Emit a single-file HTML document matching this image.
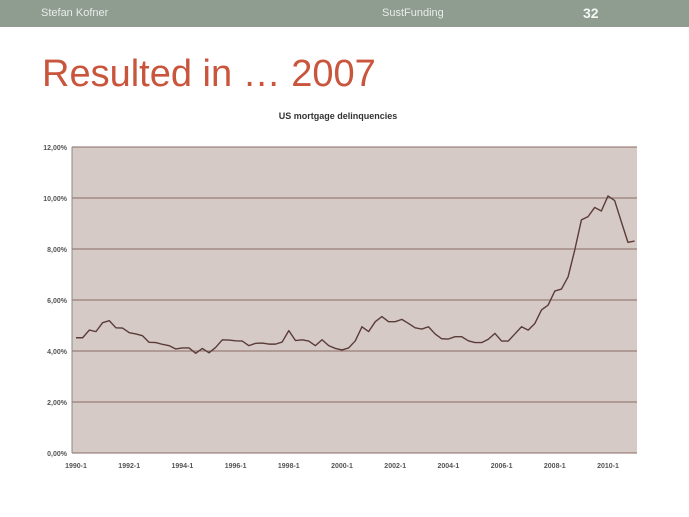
<!DOCTYPE html>
<html><head><meta charset="utf-8"><style>
body{margin:0;width:689px;height:517px;background:#fff;overflow:hidden;font-family:"Liberation Sans",sans-serif;position:relative}
.hdr{position:absolute;left:0;top:0;width:689px;height:27px;background:#8f9d91}
.hdr span{position:absolute;color:#e8ece8;font-size:11px;top:7px}
h1{position:absolute;left:42px;top:53px;margin:0;font-weight:normal;font-size:38px;color:#c9553d;letter-spacing:0}
</style></head><body>
<div class="hdr">
<span style="left:41px">Stefan Kofner</span>
<span style="left:382px">SustFunding</span>
<span style="left:583px;font-size:14px;font-weight:bold;top:5px;color:#f4f6f4">32</span>
</div>
<h1>Resulted in … 2007</h1>
<svg id="chart" width="689" height="517" style="position:absolute;left:0;top:0"></svg>
<script>
const yTicks=[0,2,4,6,8,10,12];
const yTickLabels=["0,00%","2,00%","4,00%","6,00%","8,00%","10,00%","12,00%"];
const xTickLabels=["1990-1","1992-1","1994-1","1996-1","1998-1","2000-1","2002-1","2004-1","2006-1","2008-1","2010-1"];
const startYear=1990;
const values=[4.52,4.52,4.82,4.76,5.11,5.19,4.91,4.90,4.72,4.67,4.60,4.34,4.33,4.26,4.21,4.08,4.12,4.12,3.91,4.10,3.93,4.14,4.44,4.43,4.40,4.39,4.21,4.30,4.31,4.27,4.27,4.35,4.80,4.41,4.44,4.39,4.21,4.44,4.21,4.10,4.04,4.12,4.40,4.95,4.76,5.15,5.35,5.15,5.15,5.24,5.08,4.91,4.86,4.95,4.67,4.48,4.47,4.56,4.56,4.40,4.33,4.33,4.46,4.69,4.39,4.39,4.67,4.95,4.82,5.08,5.61,5.80,6.35,6.43,6.91,7.96,9.14,9.27,9.63,9.49,10.08,9.90,9.07,8.26,8.31];
const svg=document.getElementById('chart');const NS='http://www.w3.org/2000/svg';
const L=72,R=637,T=147,B=453;
const y=v=>B-(v/12)*(B-T);
const x=q=>76+q*6.65;
function mk(t,a,txt){const e=document.createElementNS(NS,t);for(const k in a)e.setAttribute(k,a[k]);if(txt!==undefined)e.textContent=txt;svg.appendChild(e);return e;}
let e=mk('text',{x:338,y:119,'text-anchor':'middle','font-size':9,'font-weight':'bold',fill:'#333'},'US mortgage delinquencies');


e=mk('rect',{x:L,y:T,width:R-L,height:B-T,fill:'#d6cac6'});


yTicks.forEach((v,i)=>{
 const g=mk('line',{x1:L,x2:R,y1:y(v),y2:y(v),stroke:'#8a6a66','stroke-width':1});
 
 
 const t=mk('text',{x:67,y:y(v)+3,'text-anchor':'end','font-size':7,'font-weight':'bold',fill:'#555'},yTickLabels[i]);
 
 
});
e=mk('line',{x1:L,x2:L,y1:T,y2:B,stroke:'#888'});


xTickLabels.forEach((s,i)=>{
 const t=mk('text',{x:x(i*8),y:468,'text-anchor':'middle','font-size':7,'font-weight':'bold',fill:'#555'},s);
 
 
});
e=mk('polyline',{points:values.map((v,i)=>x(i)+','+y(v)).join(' '),fill:'none',stroke:'#5a3b38','stroke-width':1.4,'stroke-linejoin':'round'});


</script>
</body></html>
